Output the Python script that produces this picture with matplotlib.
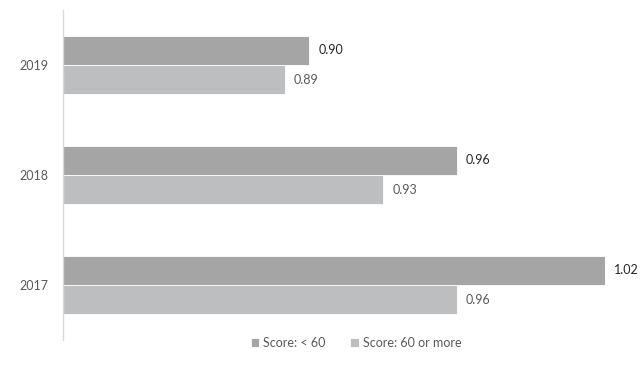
import matplotlib.pyplot as plt
import numpy as np

plt.rcParams["font.family"] = ["Lato", "DejaVu Sans"]

# Data
years = ["2017", "2018", "2019"]
score_lt60 = [1.02, 0.96, 0.90]
score_60plus = [0.96, 0.93, 0.89]
series_names = ["Score: < 60", "Score: 60 or more"]

fig = plt.figure(figsize=(6.41, 3.76), dpi=100)
ax = fig.add_axes([63 / 641, 1 - 340 / 376, (605 - 63) / 641, 330 / 376])

y = np.arange(len(years))
h = 0.266
bars1 = ax.barh(y + h / 2, score_lt60, height=h, left=0, color="#a5a5a5",
                edgecolor="white", linewidth=0.6, label=series_names[0])
bars2 = ax.barh(y - h / 2, score_60plus, height=h, left=0, color="#bdbec0",
                edgecolor="white", linewidth=0.6, label=series_names[1])

ax.set_xlim(0.8, 1.02)
ax.set_ylim(-0.5, len(years) - 0.5)

# Value labels
for bar, v in zip(bars1, score_lt60):
    ax.text(v + 0.0036, bar.get_y() + bar.get_height() / 2, f"{v:.2f}",
            va="center", ha="left", fontsize=9, color="#262626", clip_on=False)
for bar, v in zip(bars2, score_60plus):
    ax.text(v + 0.0036, bar.get_y() + bar.get_height() / 2, f"{v:.2f}",
            va="center", ha="left", fontsize=9, color="#595959", clip_on=False)

ax.set_yticks(y)
ax.set_yticklabels(years, fontsize=9, color="#595959")
ax.tick_params(axis="y", length=0, pad=10.5)
ax.set_xticks([])

for side in ["top", "right", "bottom"]:
    ax.spines[side].set_visible(False)
ax.spines["left"].set_color("#d9d9d9")
ax.spines["left"].set_linewidth(1)

leg = fig.legend(loc="center", bbox_to_anchor=(356 / 641, 1 - 343 / 376), ncol=2,
                 frameon=False, fontsize=9, handlelength=0.7, handleheight=0.7,
                 handletextpad=0.3, columnspacing=2.0, labelcolor="#595959")

fig.savefig("out.png", dpi=100)
